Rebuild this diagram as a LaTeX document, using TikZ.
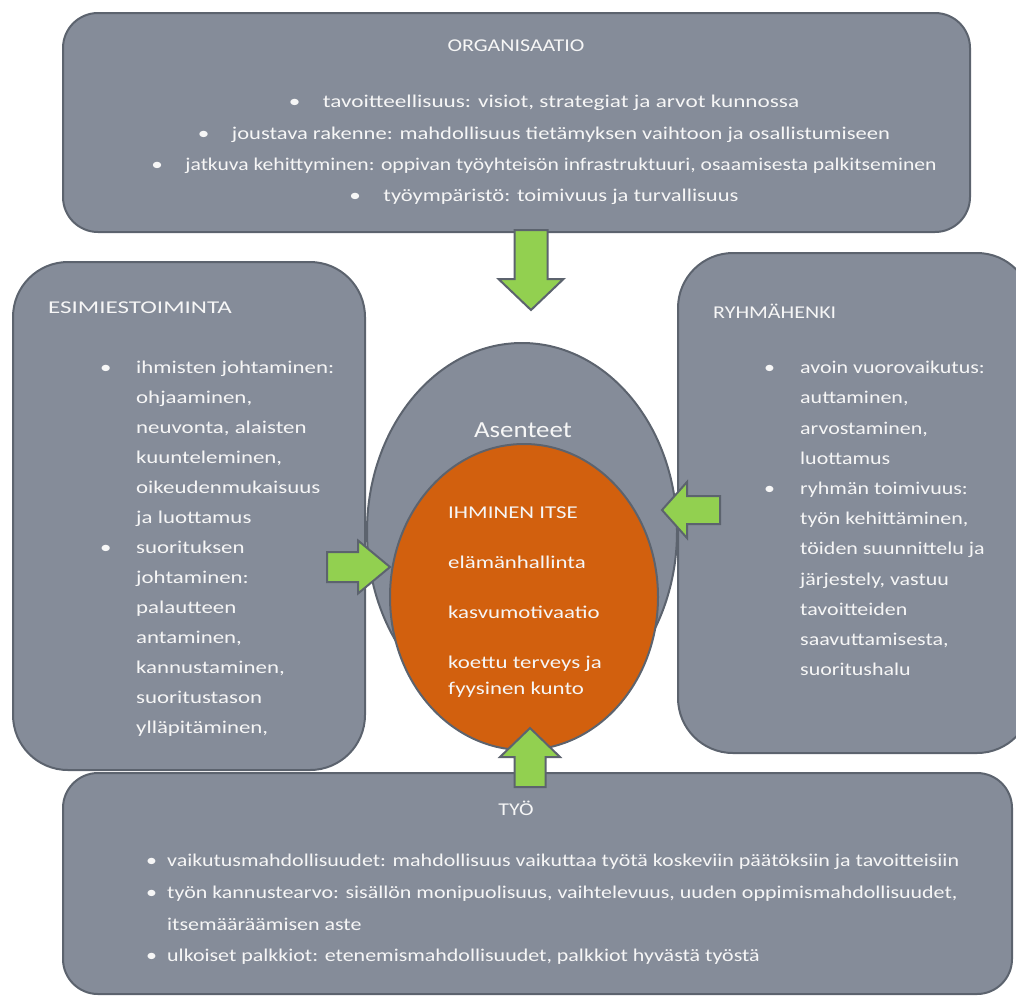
\documentclass[tikz,border=0pt]{standalone}
\usepackage{graphicx}
\usepackage{fontspec}
\setmainfont{Carlito}[FakeStretch=1.22]
\newfontfamily\orgfont{Carlito}[FakeStretch=1.29]
\newfontfamily\esifont{Carlito}[FakeStretch=1.27]
\newfontfamily\esititlefont{Carlito}[FakeStretch=1.39]
\newfontfamily\asenfont{Carlito}[FakeStretch=1.17]
\usetikzlibrary{shapes.geometric}
\usetikzlibrary{positioning}

\definecolor{boxgray}{RGB}{133,140,153}
\definecolor{edgegray}{RGB}{92,99,110}
\definecolor{selforange}{RGB}{210,96,14}
\definecolor{arrowgreen}{RGB}{146,208,80}
\definecolor{txtwhite}{RGB}{246,246,246}

\newcommand{\bul}[1][36pt]{\makebox[#1][l]{\textbullet}}
\newcommand{\hang}{\hspace*{36pt}}

\tikzset{
  pics/fatarrow/.style n args={4}{code={
    \draw[arrowfill] (0,-#4/2) -- (#1-#2,-#4/2) -- (#1-#2,-#3/2) -- (#1,0)
      -- (#1-#2,#3/2) -- (#1-#2,#4/2) -- (0,#4/2) -- cycle;
  }}
}

\begin{document}
\begin{tikzpicture}[
    x=1pt, y=-1pt,
    factorbox/.style = {draw=edgegray, line width=2pt, fill=boxgray,
                        rounded corners=#1, inner sep=0pt},
    arrowfill/.style = {draw=edgegray, line width=2pt, fill=arrowgreen,
                        line join=miter},
every node/.style = {inner sep=0pt, text=txtwhite,
                     font=\fontsize{18}{30}\selectfont}]
\useasboundingbox (0,0) rectangle (1016,997);
\clip (0,0) rectangle (1016,997);

% the four factor boxes
\node[factorbox=55pt, minimum width=354, minimum height=500] (ryhma) at (855,503) {};
\node[factorbox=55pt, minimum width=352, minimum height=508] (esimies) at (189,516) {};
\node[factorbox=35pt, minimum width=907, minimum height=219] (org) at (516.5,122.5) {};
\node[factorbox=35pt, minimum width=949, minimum height=221] (tyo) at (537.5,883.5) {};

% attitudes and the person
\node[ellipse, draw=edgegray, line width=2pt, fill=boxgray,
      minimum width=310, minimum height=377] (asenteet) at (522,531.5) {};
\node[ellipse, draw=edgegray, line width=2pt, fill=selforange,
      minimum width=268, minimum height=306] (itse) at (524,597) {};

% arrows
\pic[rotate=-90] (toparrow) at (531,230) {fatarrow={80}{31}{65}{33}};
\pic (leftarrow) at (327,567) {fatarrow={63}{32}{53}{30}};
\pic[rotate=180] (rightarrow) at (720,510) {fatarrow={58}{25}{56}{28}};
\pic[rotate=90] (bottomarrow) at (530,787) {fatarrow={59}{29}{60}{31}};

% texts
\node (orgtitle) at (516,46) {ORGANISAATIO};
\node[anchor=north, align=center, font=\fontsize{18}{31.3}\orgfont] (orglist) at (544,95)
  {\bul[34pt]tavoitteellisuus: visiot, strategiat ja arvot kunnossa\\
   \bul[34pt]\scalebox{0.97}[1]{joustava rakenne: mahdollisuus tietämyksen vaihtoon ja osallistumiseen}\\
   \bul[34pt]\scalebox{0.93}[1]{jatkuva kehittyminen: oppivan työyhteisön infrastruktuuri, osaamisesta palkitseminen}\\
   \bul[34pt]\scalebox{0.97}[1]{työympäristö: toimivuus ja turvallisuus}};

\node[anchor=west, font=\fontsize{18}{30}\esititlefont] (esititle) at (48,308) {ESIMIESTOIMINTA};
\node[anchor=north west, align=left, font=\fontsize{18}{30}\esifont] (esilist) at (100,361)
  {\bul ihmisten johtaminen:\\ \hang ohjaaminen,\\ \hang neuvonta, alaisten\\
   \hang kuunteleminen,\\ \hang oikeudenmukaisuus\\ \hang ja luottamus\\
   \bul suorituksen\\ \hang johtaminen:\\ \hang palautteen\\ \hang antaminen,\\
   \hang kannustaminen,\\ \hang suoritustason\\ \hang ylläpitäminen,};

\node[anchor=west] (ryhmatitle) at (713,311) {RYHMÄHENKI};
\node[anchor=north west, align=left, font=\fontsize{18}{30.2}\selectfont] (ryhmalist) at (764,361)
  {\bul avoin vuorovaikutus:\\ \hang auttaminen,\\ \hang arvostaminen,\\ \hang luottamus\\
   \bul ryhmän toimivuus:\\ \hang työn kehittäminen,\\ \hang töiden suunnittelu ja\\
   \hang järjestely, vastuu\\ \hang tavoitteiden\\ \hang saavuttamisesta,\\ \hang suoritushalu};

\node[font=\fontsize{23}{28}\asenfont] (asenteettitle) at (523,430) {Asenteet};
\node[anchor=north west, align=left, font=\fontsize{18}{26}\esifont] (itselist) at (448,507)
  {IHMINEN ITSE\\[24pt] elämänhallinta\\[24pt] kasvumotivaatio\\[24pt]
   koettu terveys ja\\ fyysinen kunto};

\node (tyotitle) at (516,808) {TYÖ};
\node[anchor=north west, align=left, font=\fontsize{18}{31.7}\selectfont] (tyolist) at (146,854)
  {\bul[21pt]vaikutusmahdollisuudet: mahdollisuus vaikuttaa työtä koskeviin päätöksiin ja tavoitteisiin\\
   \bul[21pt]työn kannustearvo: sisällön monipuolisuus, vaihtelevuus, uuden oppimismahdollisuudet,\\
   \hspace*{21pt}itsemääräämisen aste\\
   \bul[21pt]ulkoiset palkkiot: etenemismahdollisuudet, palkkiot hyvästä työstä};
\end{tikzpicture}
\end{document}
